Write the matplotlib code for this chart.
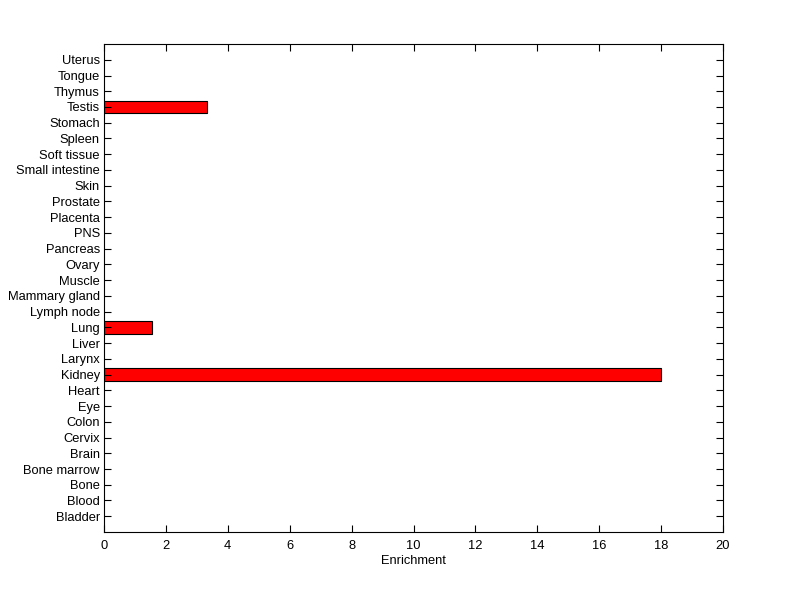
import numpy as np
import matplotlib.pyplot as plt

tissues = ['Bladder', 'Blood', 'Bone', 'Bone marrow', 'Brain', 'Cervix', 'Colon',
           'Eye', 'Heart', 'Kidney', 'Larynx', 'Liver', 'Lung', 'Lymph node',
           'Mammary gland', 'Muscle', 'Ovary', 'Pancreas', 'PNS', 'Placenta',
           'Prostate', 'Skin', 'Small intestine', 'Soft tissue', 'Spleen',
           'Stomach', 'Testis', 'Thymus', 'Tongue', 'Uterus']
enrichment = [0, 0, 0, 0, 0, 0, 0,
              0, 0, 18.0, 0, 0, 1.55, 0,
              0, 0, 0, 0, 0, 0,
              0, 0, 0, 0, 0,
              0, 3.33, 0, 0, 0]
xticks = [0, 2, 4, 6, 8, 10, 12, 14, 16, 18, 20]

plt.rcParams['font.family'] = ['Liberation Sans', 'DejaVu Sans']
plt.rcParams['font.size'] = 9.3

fig = plt.figure(figsize=(8, 5.99), dpi=100)
ax = fig.add_axes([0.13, 0.1119, 0.77375, 0.8146])

pos = np.arange(1, len(tissues) + 1)
vals = np.array(enrichment)
mask = vals > 0
ax.barh(pos[mask], vals[mask], height=0.8, color='red', edgecolor='black', linewidth=0.8)

ax.set_xlim(0, 20)
ax.set_ylim(0, len(tissues) + 1)
ax.set_xticks(xticks)
ax.set_xticklabels([str(t) for t in xticks])
ax.set_yticks(pos)
ax.set_yticklabels(tissues)
ax.set_xlabel('Enrichment', labelpad=2)

ax.tick_params(direction='in', length=5, width=0.8, top=True, right=True)
ax.tick_params(axis='x', pad=6)
ax.tick_params(axis='y', pad=3)
for s in ax.spines.values():
    s.set_linewidth(0.8)

fig.savefig('out.png', dpi=100)
